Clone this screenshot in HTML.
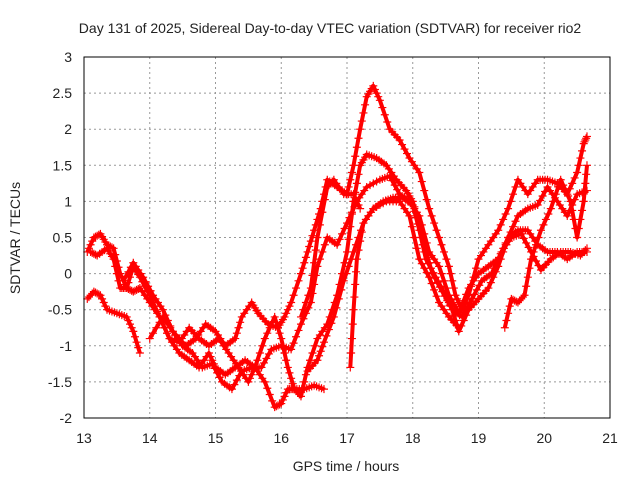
<!DOCTYPE html>
<html><head><meta charset="utf-8"><style>
body{margin:0;background:#fff;font-family:"Liberation Sans",sans-serif}
svg text{font-family:"Liberation Sans",sans-serif;font-size:14px;fill:#222}
</style></head><body>
<svg id="c" width="640" height="480">
<text x="330" y="33" text-anchor="middle">Day 131 of 2025, Sidereal Day-to-day VTEC variation (SDTVAR) for receiver rio2</text>
<text x="346" y="471" text-anchor="middle">GPS time / hours</text>
<text transform="translate(20,238) rotate(-90)" text-anchor="middle">SDTVAR / TECUs</text>
<g id="grid"></g><g id="marks"></g>
<rect x="84" y="57" width="526" height="361" fill="none" stroke="#000"/>
</svg>
<script>
const xTicks=[13,14,15,16,17,18,19,20,21];
const yTicks=[-2,-1.5,-1,-0.5,0,0.5,1,1.5,2,2.5,3];
const trackA=[[13.05,0.3],[13.15,0.5],[13.25,0.55],[13.35,0.4],[13.45,0.35],[13.55,0.0],[13.65,-0.2],[13.75,-0.25],[13.85,-0.2],[14.0,-0.4],[14.15,-0.6],[14.3,-0.9],[14.45,-1.1],[14.6,-1.2],[14.75,-1.3],[14.9,-1.1],[15.0,-1.3],[15.15,-1.4],[15.3,-1.3],[15.45,-1.2],[15.6,-1.3],[15.75,-1.5],[15.9,-1.85],[16.0,-1.8],[16.1,-1.6],[16.2,-1.6],[16.35,-1.6],[16.5,-1.55],[16.65,-1.6]];
const trackB=[[13.05,-0.35],[13.15,-0.25],[13.25,-0.3],[13.35,-0.5],[13.5,-0.55],[13.65,-0.6],[13.75,-0.8],[13.85,-1.1]];
const trackC=[[13.1,0.3],[13.2,0.25],[13.35,0.35],[13.45,0.2],[13.55,-0.2],[13.65,-0.2],[13.75,0.1],[13.85,-0.05],[14.0,-0.3],[14.15,-0.6],[14.3,-0.9],[14.45,-0.95],[14.6,-0.75],[14.75,-0.9],[14.9,-1.0],[15.05,-0.9],[15.2,-1.1],[15.35,-1.3],[15.5,-1.5],[15.6,-1.3],[15.75,-0.9],[15.9,-0.6],[16.0,-0.9],[16.1,-1.3],[16.2,-1.6],[16.3,-1.7],[16.4,-1.3],[16.55,-0.9],[16.7,-0.7],[16.85,-0.3],[17.0,0.3],[17.1,1.0],[17.2,1.5],[17.3,1.65],[17.45,1.6],[17.6,1.5],[17.75,1.3],[17.9,1.15],[18.0,1.0],[18.1,0.7],[18.2,0.3],[18.3,0.0],[18.45,-0.25],[18.6,-0.5],[18.7,-0.8],[18.85,-0.5],[19.0,-0.35],[19.15,-0.2],[19.3,0.1],[19.45,0.5],[19.6,0.6],[19.75,0.6],[19.9,0.4],[20.05,0.3],[20.2,0.3],[20.35,0.2],[20.5,0.3],[20.65,0.3]];
const trackD=[[13.6,-0.1],[13.75,0.15],[13.9,-0.05],[14.05,-0.3],[14.2,-0.5],[14.35,-0.8],[14.55,-1.0],[14.7,-0.9],[14.85,-0.7],[15.0,-0.8],[15.15,-1.0],[15.3,-0.9],[15.4,-0.6],[15.55,-0.4],[15.65,-0.55],[15.8,-0.7],[15.95,-0.75],[16.05,-0.6],[16.15,-0.4],[16.3,0.0],[16.4,0.3],[16.5,0.6],[16.6,0.9],[16.7,1.3],[16.85,1.2],[17.0,1.1],[17.1,1.5],[17.2,2.0],[17.3,2.45],[17.4,2.6],[17.5,2.4],[17.65,2.0],[17.8,1.85],[17.95,1.6],[18.1,1.4],[18.25,0.9],[18.4,0.5],[18.55,0.1],[18.65,-0.3],[18.75,-0.5],[18.85,-0.3],[19.0,0.2],[19.15,0.4],[19.3,0.6],[19.45,0.9],[19.6,1.3],[19.75,1.1],[19.9,1.3],[20.05,1.3],[20.2,1.25],[20.35,1.1],[20.5,1.4],[20.6,1.8],[20.65,1.9]];
const trackE=[[14.0,-0.9],[14.2,-0.6],[14.35,-0.8],[14.5,-1.0],[14.65,-1.1],[14.8,-1.3],[14.95,-1.25],[15.1,-1.5],[15.25,-1.6],[15.4,-1.35],[15.55,-1.3],[15.7,-1.3],[15.85,-1.05],[16.0,-1.0],[16.15,-1.05],[16.3,-0.7],[16.45,-0.4],[16.55,0.1],[16.7,0.5],[16.85,0.4],[17.0,0.7],[17.15,1.0],[17.3,1.2],[17.5,1.3],[17.65,1.35],[17.8,1.1],[17.95,1.0],[18.1,0.8],[18.25,0.3],[18.4,0.1],[18.55,-0.3],[18.7,-0.55],[18.85,-0.2],[19.0,0.0],[19.15,0.1],[19.3,0.2],[19.45,0.5],[19.6,0.8],[19.75,0.9],[19.9,0.95],[20.05,1.2],[20.2,1.0],[20.35,0.8],[20.5,1.1],[20.65,1.15]];
const trackF=[[16.4,-1.35],[16.55,-1.2],[16.65,-0.95],[16.8,-0.6],[16.95,-0.1],[17.1,0.3],[17.25,0.7],[17.4,0.9],[17.55,1.0],[17.7,1.05],[17.85,1.05],[18.0,0.95],[18.1,0.6],[18.2,0.2],[18.35,-0.05],[18.5,-0.3],[18.6,-0.5],[18.75,-0.6],[18.9,-0.35],[19.05,-0.1],[19.2,0.0],[19.35,0.3],[19.5,0.5],[19.65,0.55],[19.8,0.3],[19.95,0.05],[20.1,0.2],[20.25,0.3],[20.4,0.3],[20.55,0.25],[20.65,0.35]];
const trackG=[[17.05,-1.3],[17.1,-0.5],[17.15,0.2],[17.25,0.7],[17.4,0.9],[17.6,1.0],[17.8,1.0],[17.95,0.8],[18.1,0.2],[18.25,-0.05],[18.4,-0.4],[18.55,-0.6],[18.7,-0.75]];
const trackH=[[19.4,-0.75],[19.5,-0.35],[19.6,-0.4],[19.7,-0.3],[19.8,0.2],[19.95,0.6],[20.1,0.9],[20.25,1.3],[20.4,1.0],[20.5,0.5],[20.6,1.0],[20.65,1.5]];
const trackI=[[16.3,-0.6],[16.45,-0.2],[16.55,0.5],[16.7,1.2],[16.8,1.3],[16.95,1.1],[17.1,1.1],[17.2,0.9]];
const tracks=[trackA,trackB,trackC,trackD,trackE,trackF,trackG,trackH,trackI];
const NS='http://www.w3.org/2000/svg';
const X=v=>84+(v-13)*526/8, Y=v=>418-(v+2)*361/5;
const grid=document.getElementById('grid'), marks=document.getElementById('marks');
function mk(t,a,p){const e=document.createElementNS(NS,t);for(const k in a)e.setAttribute(k,a[k]);p.appendChild(e);return e;}
xTicks.forEach(v=>{
 if(v>13&&v<21){const l=mk('line',{x1:X(v),x2:X(v),y1:57,y2:418,stroke:'#999','stroke-dasharray':'2,3'},grid);
 
 }
 const t=mk('text',{x:X(v),y:443,'text-anchor':'middle'},grid);t.textContent=v;
 
 
});
yTicks.forEach(v=>{
 if(v>-2&&v<3){const l=mk('line',{x1:84,x2:610,y1:Y(v),y2:Y(v),stroke:'#999','stroke-dasharray':'2,3'},grid);
 
 }
 const t=mk('text',{x:72,y:Y(v)+5,'text-anchor':'end'},grid);t.textContent=v;
 
 
});
tracks.forEach((tr,i)=>{
 const g=mk('g',{},marks);
 
 
 mk('polyline',{points:tr.map(p=>X(p[0])+','+Y(p[1])).join(' '),fill:'none',stroke:'#f00','stroke-width':4,'stroke-linejoin':'round'},g);
 let d='';
 for(let j=0;j<tr.length;j++){
  const x0=X(tr[j][0]),y0=Y(tr[j][1]);
  const n=j<tr.length-1?4:1;
  for(let k=0;k<n;k++){
   const f=k/n, nx=j<tr.length-1?X(tr[j+1][0]):x0, ny=j<tr.length-1?Y(tr[j+1][1]):y0;
   const x=x0+(nx-x0)*f, y=y0+(ny-y0)*f;
   d+=`M${x-4},${y}h8M${x},${y-4}v8`;
  }
 }
 mk('path',{d:d,stroke:'#f00','stroke-width':1.2,fill:'none'},g);
});
</script>
</body></html>
